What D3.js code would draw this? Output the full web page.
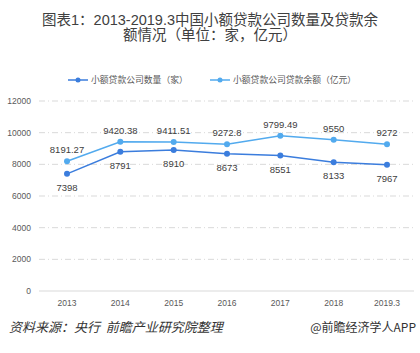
<!DOCTYPE html>
<html>
<head>
<meta charset="utf-8">
<script src="https://cdn.jsdelivr.net/npm/d3@7"></script>
<style>
  body { margin: 0; background: #fff; }
  svg { font-family: "Liberation Sans", Arial, "Noto Sans CJK SC", sans-serif; }
</style>
</head>
<body>
<svg id="chart"></svg>
<script>
const width = 420;
const height = 353;

const years = ["2013", "2014", "2015", "2016", "2017", "2018", "2019.3"];
const companyCount = [7398, 8791, 8910, 8673, 8551, 8133, 7967];
const loanBalance = [8191.27, 9420.38, 9411.51, 9272.8, 9799.49, 9550, 9272];
const balanceLabels = ["8191.27", "9420.38", "9411.51", "9272.8", "9799.49", "9550", "9272"];
const yTicks = [0, 2000, 4000, 6000, 8000, 10000, 12000];

const countColor = "#3b7ddd";
const balanceColor = "#52aaee";

const svg = d3.select("#chart")
    .attr("width", width)
    .attr("height", height);

// title, two lines
const titleLines = ["图表1：2013-2019.3中国小额贷款公司数量及贷款余", "额情况（单位：家，亿元）"];
svg.append("g")
  .selectAll("text")
  .data(titleLines)
  .enter().append("text")
    .attr("x", 210)
    .attr("y", (d, i) => 25 + i * 15)
    .attr("text-anchor", "middle")
    .attr("fill", "#404040")
    .style("font-size", "14.5px")
    .style("font-family", "'Liberation Sans', 'Noto Sans CJK SC', sans-serif")
    .text(d => d);

const x = d3.scalePoint()
    .domain(years)
    .range([67, 387]);

const y = d3.scaleLinear()
    .domain([0, 12000])
    .range([291, 101]);

// grid
svg.append("g")
  .selectAll("line")
  .data(yTicks)
  .enter().append("line")
    .attr("x1", 39)
    .attr("x2", 414)
    .attr("y1", d => y(d))
    .attr("y2", d => y(d))
    .attr("stroke", "#d9d9d9")
    .attr("stroke-dasharray", d => d === 0 ? null : "6,3,1,3")
    .attr("stroke-width", 1);

// y tick labels
svg.append("g")
  .selectAll("text")
  .data(yTicks)
  .enter().append("text")
    .attr("x", 31)
    .attr("y", d => y(d) + 3)
    .attr("text-anchor", "end")
    .attr("fill", "#595959")
    .style("font-size", "8.5px")
    .text(d => d);

// x tick labels
svg.append("g")
  .selectAll("text")
  .data(years)
  .enter().append("text")
    .attr("x", d => x(d))
    .attr("y", 306)
    .attr("text-anchor", "middle")
    .attr("fill", "#595959")
    .style("font-size", "8.5px")
    .text(d => d);

const line = d3.line()
    .x((d, i) => x(years[i]))
    .y(d => y(d));

function drawSeries(values, color) {
  svg.append("path")
      .datum(values)
      .attr("fill", "none")
      .attr("stroke", color)
      .attr("stroke-width", 1.5)
      .attr("d", line);
  svg.append("g")
    .selectAll("circle")
    .data(values)
    .enter().append("circle")
      .attr("cx", (d, i) => x(years[i]))
      .attr("cy", d => y(d))
      .attr("r", 3)
      .attr("fill", color);
}

drawSeries(loanBalance, balanceColor);
drawSeries(companyCount, countColor);

// data labels
svg.append("g")
  .selectAll("text")
  .data(loanBalance)
  .enter().append("text")
    .attr("x", (d, i) => x(years[i]))
    .attr("y", d => y(d) - 8)
    .attr("text-anchor", "middle")
    .attr("fill", "#404040")
    .style("font-size", "9.5px")
    .text((d, i) => balanceLabels[i]);

svg.append("g")
  .selectAll("text")
  .data(companyCount)
  .enter().append("text")
    .attr("x", (d, i) => x(years[i]))
    .attr("y", d => y(d) + 17)
    .attr("text-anchor", "middle")
    .attr("fill", "#404040")
    .style("font-size", "9.5px")
    .text(d => d);

// legend
const legend = [
  { name: "小额贷款公司数量（家）", color: countColor, x: 68 },
  { name: "小额贷款公司贷款余额（亿元）", color: balanceColor, x: 210 }
];
const lg = svg.append("g")
  .selectAll("g")
  .data(legend)
  .enter().append("g");
lg.append("line")
    .attr("x1", d => d.x)
    .attr("x2", d => d.x + 20)
    .attr("y1", 80)
    .attr("y2", 80)
    .attr("stroke", d => d.color)
    .attr("stroke-width", 1.5);
lg.append("circle")
    .attr("cx", d => d.x + 10)
    .attr("cy", 80)
    .attr("r", 2.5)
    .attr("fill", d => d.color);
lg.append("text")
    .attr("x", d => d.x + 23)
    .attr("y", 83)
    .attr("fill", "#595959")
    .style("font-size", "8.8px")
    .style("font-family", "'Noto Sans CJK SC', sans-serif")
    .text(d => d.name);

// footer
svg.append("text")
    .attr("x", 9)
    .attr("y", 332)
    .attr("fill", "#333")
    .style("font-size", "13px")
    .style("font-style", "italic")
    .style("font-family", "'Noto Sans CJK SC', sans-serif")
    .text("资料来源：央行\u00a0\u00a0前瞻产业研究院整理");

svg.append("text")
    .attr("x", 416)
    .attr("y", 332)
    .attr("text-anchor", "end")
    .attr("fill", "#333")
    .style("font-size", "12px")
    .style("font-family", "'Noto Sans CJK SC', sans-serif")
    .text("@前瞻经济学人APP");
</script>
</body>
</html>
